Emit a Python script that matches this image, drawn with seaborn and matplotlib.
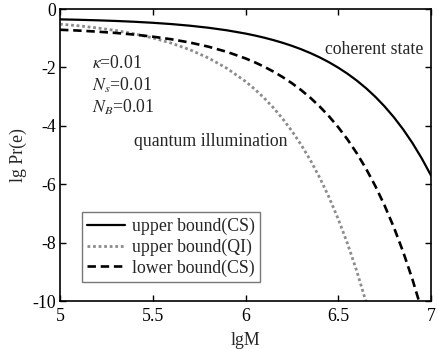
import matplotlib
matplotlib.use("Agg")
import matplotlib.pyplot as plt
import seaborn as sns
import pandas as pd

lgM = [5.0, 5.1, 5.2, 5.3, 5.4, 5.5, 5.6, 5.7, 5.8, 5.9, 6.0,
       6.05, 6.1, 6.15, 6.2, 6.25, 6.3, 6.35, 6.4, 6.45, 6.5,
       6.55, 6.6, 6.65, 6.7, 6.75, 6.8, 6.85, 6.9, 6.95, 7.0]

upper_cs = [-0.355, -0.369, -0.387, -0.409, -0.437, -0.472, -0.516, -0.572, -0.642, -0.730, -0.841,
            -0.907, -0.981, -1.064, -1.157, -1.261, -1.378, -1.510, -1.657, -1.823, -2.009,
            -2.217, -2.451, -2.713, -3.007, -3.338, -3.708, -4.124, -4.590, -5.114, -5.701]

upper_qi = [-0.519, -0.575, -0.647, -0.736, -0.849, -0.990, -1.169, -1.394, -1.677, -2.033, -2.481,
            -2.747, -3.045, -3.380, -3.756, -4.178, -4.651, -5.181, -5.777, -6.445, -7.195,
            -8.036, -8.980, -10.039, -11.227, -12.5, -13.9, -15.5, -17.3, -19.4, -21.8]

lower_cs = [-0.711, -0.739, -0.775, -0.820, -0.876, -0.947, -1.036, -1.148, -1.290, -1.468, -1.692,
            -1.825, -1.974, -2.142, -2.330, -2.540, -2.777, -3.042, -3.340, -3.674, -4.049,
            -4.469, -4.941, -5.471, -6.065, -6.732, -7.480, -8.319, -9.260, -10.317, -11.502]

labels = ["upper bound(CS)", "upper bound(QI)", "lower bound(CS)"]
x_ticks = [5, 5.5, 6, 6.5, 7]
x_tick_labels = ["5", "5.5", "6", "6.5", "7"]
y_ticks = [0, -2, -4, -6, -8, -10]
y_tick_labels = ["0", "-2", "-4", "-6", "-8", "-10"]

sns.set_style("ticks")
plt.rcParams["font.family"] = ["Liberation Serif", "DejaVu Serif"]
plt.rcParams["mathtext.fontset"] = "stix"
FS = 12.8

fig = plt.figure(figsize=(4.38, 3.49), dpi=100)
ax = fig.add_axes([60/438, 1-301/349, 371/438, 292/349])

styles = [dict(color="black", linestyle="-", linewidth=1.6),
          dict(color="#8c8c8c", linestyle=(0, (1, 1)), linewidth=2.0),
          dict(color="black", linestyle=(0, (3.2, 1.8)), linewidth=1.9)]
for ys, lab, st in zip([upper_cs, upper_qi, lower_cs], labels, styles):
    df = pd.DataFrame({"lgM": lgM, "y": ys})
    sns.lineplot(data=df, x="lgM", y="y", ax=ax, label=lab, **st)

ax.set_xlim(5, 7)
ax.set_ylim(-10, 0)
ax.set_xticks(x_ticks)
ax.set_xticklabels(x_tick_labels)
ax.set_yticks(y_ticks)
ax.set_yticklabels(y_tick_labels)
ax.tick_params(direction="in", length=4, width=1, top=True, right=True,
               labelsize=FS, pad=3, colors="black")
ax.tick_params(axis="x", pad=5)
for s in ax.spines.values():
    s.set_linewidth(1.2)
    s.set_color("black")
ax.set_xlabel("lgM", fontsize=FS, labelpad=5)
ax.set_ylabel("lg Pr(e)", fontsize=FS, labelpad=4)

ax.text(5.17, -1.85, r"$\kappa$=0.01", fontsize=FS, va="center", ha="left")
ax.text(5.17, -2.6, r"$N_s$=0.01", fontsize=FS, va="center", ha="left")
ax.text(5.17, -3.36, r"$N_B$=0.01", fontsize=FS, va="center", ha="left")
ax.text(5.40, -4.55, "quantum illumination", fontsize=FS, va="center", ha="left")
ax.text(6.43, -1.4, "coherent state", fontsize=FS, va="center", ha="left")

leg = ax.legend(loc="lower left", bbox_to_anchor=(0.059, 0.065), fontsize=FS,
                frameon=True, fancybox=False, handlelength=2.1, handletextpad=0.4,
                borderpad=0.3, labelspacing=0.2, borderaxespad=0)
leg.get_frame().set_edgecolor("#555555")
leg.get_frame().set_linewidth(1.0)

fig.savefig("out.png", dpi=100)
